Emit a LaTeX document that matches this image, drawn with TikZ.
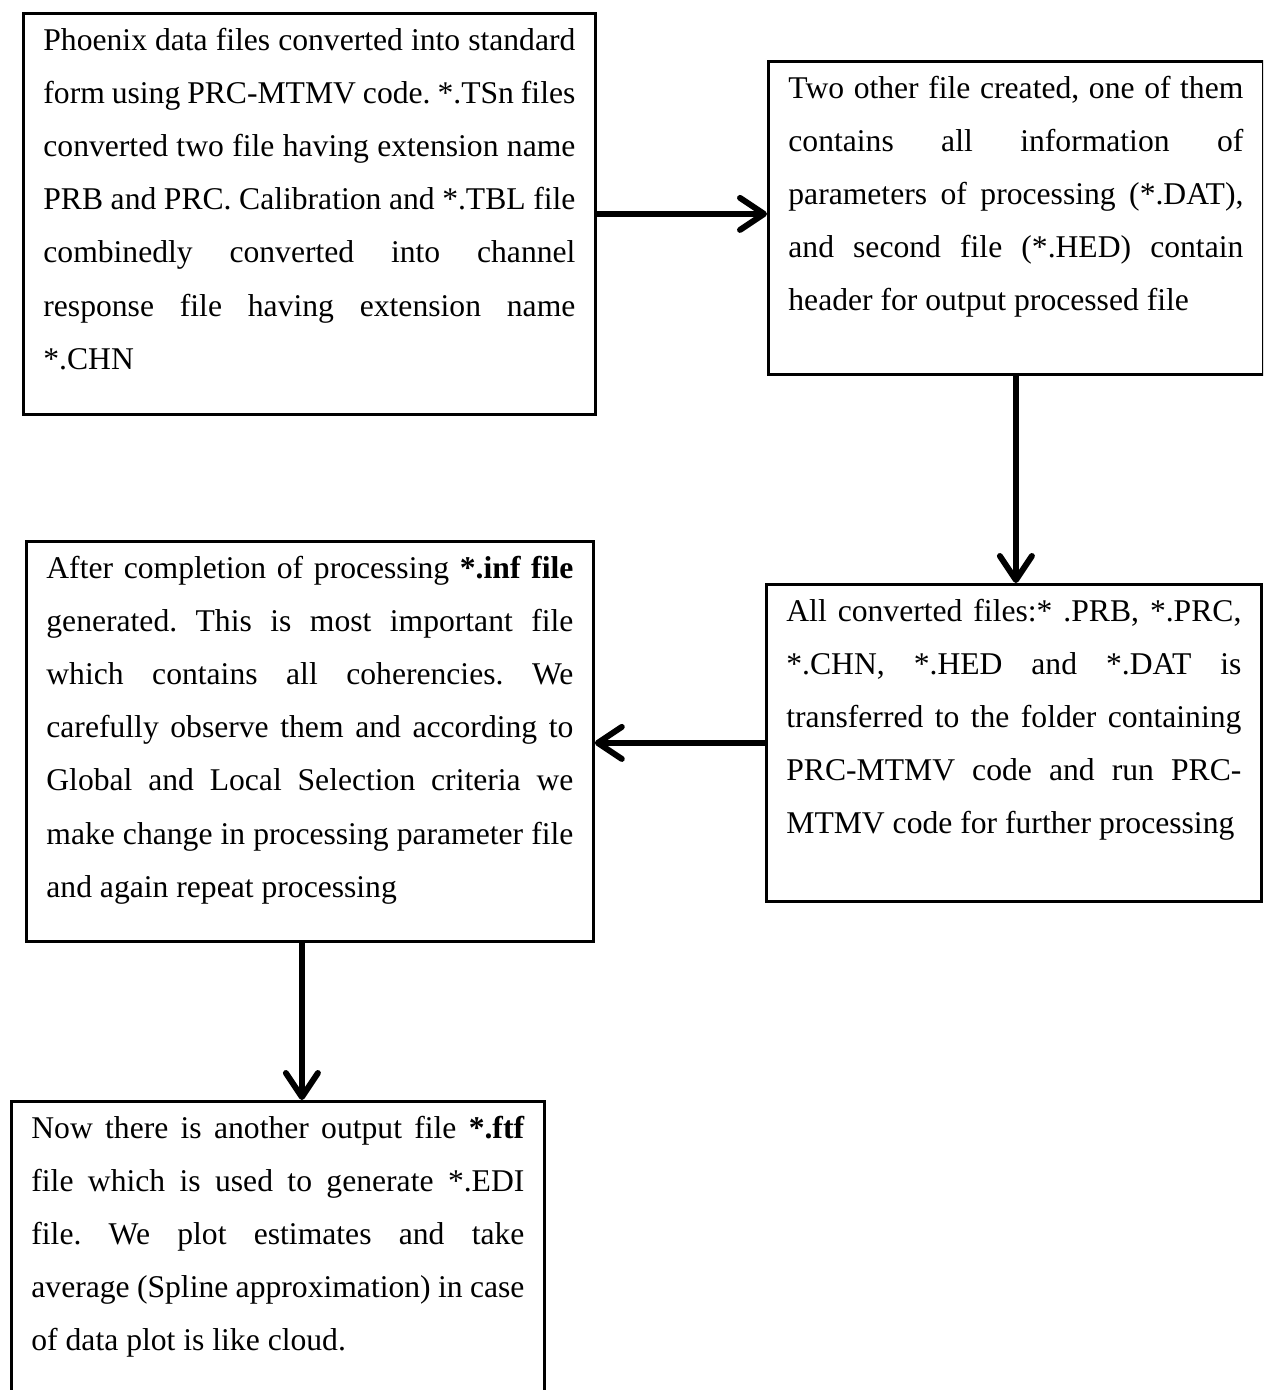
\documentclass[tikz,border=0pt]{standalone}
\usepackage{fontspec}
\setmainfont{Liberation Serif}
\usetikzlibrary{arrows.meta}
\frenchspacing

\begin{document}
\begin{tikzpicture}[x=1cm,y=1cm,line width=0.4pt,font=\fontsize{9}{15.1}\selectfont,
  stepbox/.style={draw=black,line width=0.8pt,inner xsep=0.2cm,inner ysep=0.15cm,anchor=north west},
  flow/.style={-{Straight Barb[length=2.4mm,width=3.2mm,line width=1.7pt,round]},line width=1.6pt}]
  \clip (0,0) rectangle (12.63,13.90);
  \node[stepbox] (conv) at (0.22,13.78) {\parbox[t][3.71cm][t]{5.32cm}{%
    Phoenix data files converted into standard\linebreak
    form using PRC-MTMV code. *.TSn files\linebreak
    converted two file having extension name\linebreak
    PRB and PRC. Calibration and *.TBL file\linebreak
    combinedly converted into channel\linebreak
    response file having extension name\linebreak
    *.CHN}};
  \node[stepbox] (hdr) at (7.67,13.30) {\parbox[t][2.83cm][t]{4.55cm}{%
    Two other file created, one of them\linebreak
    contains all information of\linebreak
    parameters of processing (*.DAT),\linebreak
    and second file (*.HED) contain\linebreak
    header for output processed file}};
  \node[stepbox] (trans) at (7.65,8.07) {\parbox[t][2.87cm][t]{4.55cm}{%
    All converted files:* .PRB, *.PRC,\linebreak
    *.CHN, *.HED and *.DAT is\linebreak
    transferred to the folder containing\linebreak
    PRC-MTMV code and run PRC-\linebreak
    MTMV code for further processing}};
  \node[stepbox] (coh) at (0.25,8.50) {\parbox[t][3.70cm][t]{5.27cm}{%
    After completion of processing \textbf{*.inf file}\linebreak
    generated. This is most important file\linebreak
    which contains all coherencies. We\linebreak
    carefully observe them and according to\linebreak
    Global and Local Selection criteria we\linebreak
    make change in processing parameter file\linebreak
    and again repeat processing}};
  \node[stepbox] (ftf) at (0.10,2.90) {\parbox[t][3.10cm][t]{4.93cm}{%
    Now there is another output file \textbf{*.ftf}\linebreak
    file which is used to generate *.EDI\linebreak
    file. We plot estimates and take\linebreak
    average (Spline approximation) in case\linebreak
    of data plot is like cloud.}};
  \draw[flow] (conv.east) -- (conv.east -| hdr.west);
  \draw[flow] (hdr.south) -- (hdr.south |- trans.north);
  \draw[flow] (trans.west) -- (trans.west -| coh.east);
  \draw[flow] ([xshift=-0.08cm]coh.south) -- ([xshift=-0.08cm]coh.south |- ftf.north);
\end{tikzpicture}
\end{document}
